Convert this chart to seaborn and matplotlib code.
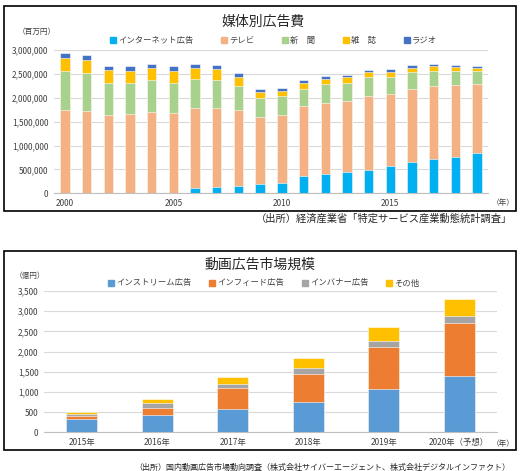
import numpy as np
import pandas as pd
import matplotlib
matplotlib.use("Agg")
import matplotlib.pyplot as plt
import seaborn as sns
from matplotlib.lines import Line2D
from matplotlib.patches import Rectangle
from matplotlib.ticker import FuncFormatter, FixedLocator

# ---------------- data: 媒体別広告費 (百万円) ----------------
years = [str(y) for y in range(2000, 2020)]
internet = [0, 0, 0, 0, 0, 0, 113000, 141000, 162000, 204000, 225000, 366000,
            408000, 437000, 486000, 563000, 655000, 725000, 768000, 838000]
tv = [1745000, 1723000, 1635000, 1655000, 1700000, 1685000, 1667000, 1649000,
      1578000, 1386000, 1407000, 1454000, 1475000, 1493000, 1542000, 1508000,
      1536000, 1523000, 1509000, 1441000]
newspaper = [822000, 795000, 677000, 657000, 669000, 634000, 617000, 586000,
             501000, 396000, 396000, 371000, 401000, 389000, 398000, 362000,
             348000, 319000, 290000, 276000]
magazine = [270000, 276000, 262000, 255000, 248000, 248000, 227000, 220000,
            192000, 127000, 114000, 114000, 113000, 107000, 113000, 113000,
            92000, 100000, 85000, 63000]
radio = [106000, 100000, 93000, 100000, 92000, 93000, 85000, 92000, 85000,
         64000, 57000, 71000, 57000, 56000, 50000, 57000, 57000, 49000,
         43000, 57000]
media_names = ["インターネット広告", "テレビ", "新　聞", "雑　誌", "ラジオ"]
media_colors = ["#00B0F0", "#F4B183", "#A9D18E", "#FFC000", "#4472C4"]
year_labels = ["2000", "2005", "2010", "2015"]

# ---------------- data: 動画広告市場規模 (億円) ----------------
vid_years = ["2015年", "2016年", "2017年", "2018年", "2019年", "2020年（予想）"]
instream = [330, 430, 587, 746, 1073, 1389]
infeed = [83, 181, 503, 705, 1040, 1307]
inbanner = [50, 116, 108, 133, 158, 183]
other = [33, 107, 182, 256, 333, 416]
vid_names = ["インストリーム広告", "インフィード広告", "インバナー広告", "その他"]
vid_colors = ["#5B9BD5", "#ED7D31", "#A5A5A5", "#FFC000"]

sns.set_theme(style="white")
plt.rcParams["font.family"] = ["Noto Sans CJK JP", "DejaVu Sans"]

W, H = 527, 471
fig = plt.figure(figsize=(W / 100, H / 100), dpi=100)

def fx(x):
    return x / W

def fy(y):
    return 1 - y / H

def stacked(ax, cats, series, colors, width):
    cum = np.cumsum(np.array(series, dtype=float), axis=0)
    for i in range(len(series) - 1, -1, -1):
        df = pd.DataFrame({"cat": cats, "val": cum[i]})
        sns.barplot(data=df, x="cat", y="val", color=colors[i], saturation=1,
                    width=width, edgecolor="white", linewidth=0.4, ax=ax,
                    order=cats)

def style_axis(ax, n, ymax, ystep, fmt):
    ax.set_xlim(-0.5, n - 0.5)
    ax.set_ylim(0, ymax)
    ax.set_yticks(np.arange(0, ymax + 1, ystep))
    ax.yaxis.set_major_formatter(FuncFormatter(fmt))
    ax.yaxis.grid(True, color="#D9D9D9", linewidth=0.8)
    ax.set_axisbelow(True)
    for s in ["left", "right", "top"]:
        ax.spines[s].set_visible(False)
    ax.spines["bottom"].set_color("#BFBFBF")
    ax.spines["bottom"].set_linewidth(0.8)
    ax.set_xlabel("")
    ax.set_ylabel("")
    ax.tick_params(axis="y", length=0, labelsize=6, labelcolor="#404040", pad=4)
    ax.xaxis.set_minor_locator(FixedLocator(np.arange(-0.5, n, 1.0)))
    ax.tick_params(axis="x", which="minor", length=3, color="#BFBFBF", width=0.8)
    ax.tick_params(axis="x", which="major", length=0, labelsize=6,
                   labelcolor="#404040", pad=4)

# ---------------- top chart ----------------
ax1 = fig.add_axes([fx(54), fy(193.3), fx(488) - fx(54), fy(50) - fy(193.3)])
stacked(ax1, years, [internet, tv, newspaper, magazine, radio], media_colors, 0.43)
style_axis(ax1, len(years), 3000000, 500000, lambda v, p: f"{int(v):,}")
ax1.set_xticks([0, 5, 10, 15])
ax1.set_xticklabels(year_labels)

fig.text(fx(263), fy(22), "媒体別広告費", ha="center", va="center",
         fontsize=10, color="#262626")
fig.text(fx(37), fy(32), "（百万円）", ha="center", va="center",
         fontsize=5.5, color="#404040")
fig.text(fx(503), fy(203), "（年）", ha="center", va="center",
         fontsize=5.5, color="#404040")
h1 = [Line2D([], [], marker="s", linestyle="none", markersize=3.8,
             markerfacecolor=c, markeredgecolor=c) for c in media_colors]
fig.legend(h1, media_names, loc="center", bbox_to_anchor=(fx(274), fy(40)),
           ncol=5, frameon=False, fontsize=6, handlelength=0.6,
           handletextpad=0.3, columnspacing=3.4, labelcolor="#404040")
fig.text(fx(512), fy(219), "（出所）経済産業省「特定サービス産業動態統計調査」",
         ha="right", va="center", fontsize=7.4, color="#262626")

# ---------------- bottom chart ----------------
ax2 = fig.add_axes([fx(44), fy(432.3), fx(497) - fx(44), fy(291) - fy(432.3)])
stacked(ax2, vid_years, [instream, infeed, inbanner, other], vid_colors, 0.41)
style_axis(ax2, len(vid_years), 3500, 500, lambda v, p: f"{int(v):,}")
ax2.set_xticks(range(len(vid_years)))
ax2.set_xticklabels(vid_years)

fig.text(fx(260), fy(265), "動画広告市場規模", ha="center", va="center",
         fontsize=10, color="#262626")
fig.text(fx(30), fy(276), "（億円）", ha="center", va="center",
         fontsize=5.5, color="#404040")
fig.text(fx(503), fy(444), "（年）", ha="center", va="center",
         fontsize=5.5, color="#404040")
h2 = [Line2D([], [], marker="s", linestyle="none", markersize=3.8,
             markerfacecolor=c, markeredgecolor=c) for c in vid_colors]
fig.legend(h2, vid_names, loc="center", bbox_to_anchor=(fx(264), fy(283)),
           ncol=4, frameon=False, fontsize=6, handlelength=0.6,
           handletextpad=0.3, columnspacing=2.2, labelcolor="#404040")
fig.text(fx(510), fy(467),
         "（出所）国内動画広告市場動向調査（株式会社サイバーエージェント、株式会社デジタルインファクト）",
         ha="right", va="center", fontsize=5.8, color="#262626")

# frames
for (x0, y0, x1, y1) in [(4, 6, 516, 211), (4, 251, 516, 450)]:
    fig.patches.append(Rectangle((fx(x0), fy(y1)), fx(x1) - fx(x0), fy(y0) - fy(y1),
                                 transform=fig.transFigure, fill=False,
                                 edgecolor="black", linewidth=1.2))

fig.savefig("out.png", dpi=100)
